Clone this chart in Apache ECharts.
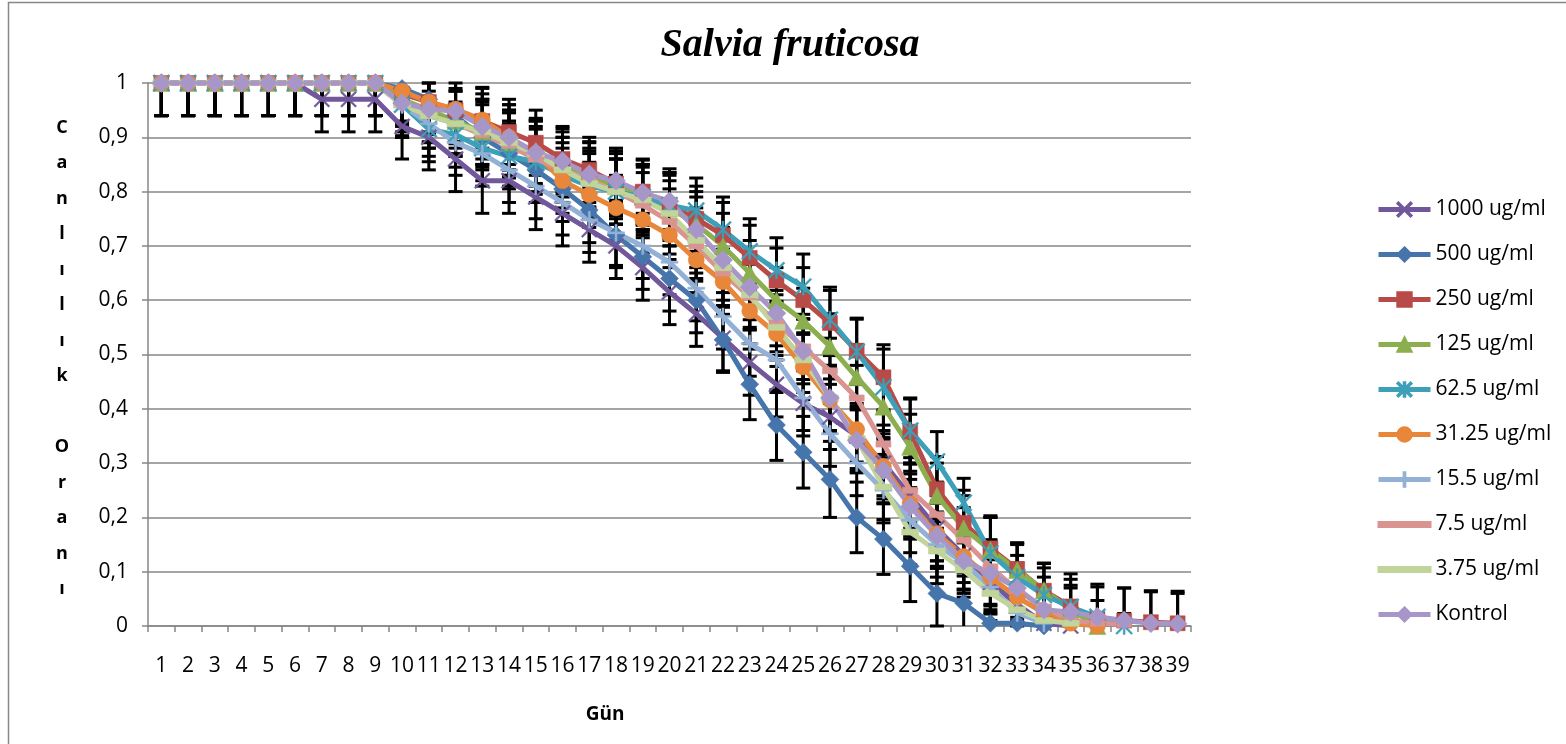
<!DOCTYPE html>
<html>
<head>
<meta charset="utf-8">
<title>Salvia fruticosa</title>
<script src="https://cdn.jsdelivr.net/npm/echarts@6/dist/echarts.min.js"></script>
<style>
  html, body { margin: 0; padding: 0; background: #fff; }
  #chart { width: 1566px; height: 744px; }
</style>
</head>
<body>
<div id="chart"></div>
<script>
// Days on the x axis
const days = ['1','2','3','4','5','6','7','8','9','10','11','12','13','14','15','16','17','18','19','20',
  '21','22','23','24','25','26','27','28','29','30','31','32','33','34','35','36','37','38','39'];

// Survival ratio per concentration (day 1 onwards)
const s1000 = [1,1,1,1,1,1,0.97,0.97,0.97,0.92,0.90,0.86,0.82,0.82,0.79,0.76,0.73,0.70,0.66,0.615,
  0.575,0.53,0.485,0.445,0.41,0.385,0.35,0.30,0.24,0.18,0.13,0.08,0.04,0.005,0];
const s500 = [1,1,1,1,1,1,1,1,1,0.99,0.97,0.94,0.90,0.87,0.84,0.805,0.766,0.72,0.68,0.64,
  0.60,0.527,0.445,0.37,0.32,0.27,0.20,0.16,0.11,0.06,0.042,0.005,0.005,0];
const s250 = [1,1,1,1,1,1,1,1,1,0.98,0.965,0.95,0.93,0.91,0.89,0.86,0.84,0.815,0.80,0.775,
  0.75,0.72,0.678,0.636,0.60,0.558,0.507,0.458,0.358,0.252,0.19,0.143,0.105,0.065,0.036,0.012,0.01,0.007,0.005];
const s125 = [1,1,1,1,1,1,1,1,1,0.97,0.95,0.93,0.91,0.89,0.875,0.85,0.83,0.81,0.79,0.77,
  0.74,0.70,0.65,0.60,0.562,0.515,0.458,0.404,0.33,0.24,0.18,0.14,0.103,0.066,0.03,0];
const s62 = [1,1,1,1,1,1,1,1,1,0.96,0.915,0.905,0.88,0.865,0.855,0.83,0.81,0.80,0.79,0.775,
  0.765,0.73,0.69,0.655,0.625,0.564,0.505,0.44,0.36,0.303,0.227,0.134,0.09,0.057,0.035,0.017,0];
const s31 = [1,1,1,1,1,1,1,1,1,0.985,0.965,0.952,0.932,0.90,0.87,0.82,0.794,0.77,0.748,0.72,
  0.674,0.634,0.58,0.538,0.477,0.416,0.362,0.294,0.225,0.17,0.128,0.09,0.053,0.024,0.005,0];
const s15 = [1,1,1,1,1,1,1,1,1,0.96,0.925,0.89,0.87,0.84,0.81,0.78,0.748,0.724,0.70,0.67,
  0.622,0.57,0.52,0.49,0.42,0.354,0.30,0.25,0.195,0.15,0.116,0.072,0.024,0.005];
const s7 = [1,1,1,1,1,1,1,1,1,0.96,0.94,0.925,0.905,0.885,0.86,0.84,0.82,0.80,0.775,0.745,
  0.70,0.65,0.606,0.558,0.514,0.47,0.42,0.335,0.25,0.205,0.158,0.109,0.066,0.035,0.01,0.005,0.003];
const s3 = [1,1,1,1,1,1,1,1,1,0.96,0.94,0.925,0.91,0.89,0.87,0.84,0.815,0.80,0.785,0.76,
  0.71,0.66,0.61,0.55,0.49,0.42,0.345,0.256,0.173,0.138,0.103,0.06,0.03,0.01,0.005];
const sKontrol = [1,1,1,1,1,1,1,1,1,0.963,0.952,0.948,0.92,0.90,0.872,0.856,0.832,0.82,0.798,0.782,
  0.73,0.674,0.624,0.576,0.506,0.42,0.342,0.287,0.22,0.166,0.12,0.097,0.07,0.03,0.026,0.017,0.01,0.005,0.004];

// Standard deviation per point
const e1000 = [0.06,0.06,0.06,0.06,0.06,0.06,0.06,0.06,0.06,0.06,0.06,0.06,0.06,0.06,0.06,0.06,0.06,0.06,0.06,0.06,
  0.06,0.06,0.06,0.06,0.06,0.06,0.06,0.06,0.06,0.06,0.05,0.05,0.04,0.02,0.01];
const e500 = [0.06,0.06,0.06,0.06,0.06,0.06,0.06,0.06,0.06,0.06,0.06,0.06,0.06,0.06,0.06,0.06,0.06,0.06,0.06,0.06,
  0.06,0.06,0.065,0.065,0.066,0.07,0.065,0.065,0.065,0.06,0.05,0.02,0.02,0.01];
const e250 = [0.06,0.06,0.06,0.06,0.06,0.06,0.06,0.06,0.06,0.06,0.06,0.06,0.06,0.06,0.06,0.06,0.06,0.06,0.06,0.06,
  0.06,0.06,0.06,0.06,0.06,0.06,0.06,0.06,0.06,0.06,0.06,0.06,0.045,0.05,0.06,0.06,0.06,0.056,0.055];
const e125 = [0.06,0.06,0.06,0.06,0.06,0.06,0.06,0.06,0.06,0.06,0.06,0.06,0.06,0.06,0.06,0.06,0.06,0.06,0.06,0.06,
  0.06,0.06,0.06,0.06,0.06,0.06,0.06,0.06,0.06,0.06,0.06,0.06,0.05,0.05,0.04,0.01];
const e62 = [0.06,0.06,0.06,0.06,0.06,0.06,0.06,0.06,0.06,0.06,0.06,0.06,0.06,0.06,0.06,0.06,0.06,0.06,0.06,0.06,
  0.06,0.06,0.06,0.06,0.06,0.06,0.06,0.07,0.06,0.055,0.045,0.066,0.063,0.05,0.04,0.03,0.01];
const e31 = [0.06,0.06,0.06,0.06,0.06,0.06,0.06,0.06,0.06,0.06,0.06,0.06,0.06,0.06,0.06,0.06,0.06,0.06,0.06,0.06,
  0.06,0.06,0.06,0.06,0.06,0.06,0.06,0.06,0.06,0.06,0.06,0.05,0.05,0.04,0.02,0.01];
const e15 = [0.06,0.06,0.06,0.06,0.06,0.06,0.06,0.06,0.06,0.06,0.06,0.06,0.06,0.06,0.06,0.06,0.06,0.06,0.06,0.06,
  0.06,0.06,0.06,0.06,0.06,0.06,0.06,0.06,0.06,0.06,0.05,0.05,0.04,0.02];
const e7 = [0.06,0.06,0.06,0.06,0.06,0.06,0.06,0.06,0.06,0.06,0.06,0.06,0.06,0.06,0.06,0.06,0.06,0.06,0.06,0.06,
  0.06,0.06,0.06,0.06,0.06,0.06,0.06,0.06,0.06,0.06,0.06,0.05,0.05,0.04,0.03,0.02,0.02];
const e3 = [0.06,0.06,0.06,0.06,0.06,0.06,0.06,0.06,0.06,0.06,0.06,0.06,0.06,0.06,0.06,0.06,0.06,0.06,0.06,0.06,
  0.06,0.06,0.06,0.06,0.06,0.06,0.06,0.06,0.06,0.06,0.05,0.05,0.04,0.02,0.01];
const eKontrol = [0.06,0.06,0.06,0.06,0.06,0.06,0.06,0.06,0.06,0.06,0.06,0.06,0.06,0.06,0.06,0.06,0.06,0.06,0.06,0.06,
  0.06,0.06,0.06,0.06,0.06,0.06,0.06,0.06,0.06,0.06,0.06,0.06,0.06,0.06,0.06,0.06,0.06,0.06,0.06];

// Y tick labels
const yTicks = [0, 0.1, 0.2, 0.3, 0.4, 0.5, 0.6, 0.7, 0.8, 0.9, 1];

// Marker shapes
const X_PATH = 'path://M0,0.8L0.8,0L5,4.2L9.2,0L10,0.8L5.8,5L10,9.2L9.2,10L5,5.8L0.8,10L0,9.2L4.2,5Z';
const STAR_PATH = 'path://M0,0.8L0.8,0L5,4.2L9.2,0L10,0.8L5.8,5L10,9.2L9.2,10L5,5.8L0.8,10L0,9.2L4.2,5ZM4.45,0H5.55V10H4.45Z';
const PLUS_PATH = 'path://M4.4,0H5.6V4.4H10V5.6H5.6V10H4.4V5.6H0V4.4H4.4Z';
const LINE_ICON = 'path://M0,0M52,18M0,6.5H52V11.5H0Z';

const groups = [
  { name: '1000 ug/ml', values: s1000, err: e1000, color: '#71589A', symbol: X_PATH, size: 16 },
  { name: '500 ug/ml', values: s500, err: e500, color: '#4675AC', symbol: 'diamond', size: 18 },
  { name: '250 ug/ml', values: s250, err: e250, color: '#B84A47', symbol: 'rect', size: 15 },
  { name: '125 ug/ml', values: s125, err: e125, color: '#8BAF4F', symbol: 'triangle', size: 17 },
  { name: '62.5 ug/ml', values: s62, err: e62, color: '#3D9FB8', symbol: STAR_PATH, size: 17 },
  { name: '31.25 ug/ml', values: s31, err: e31, color: '#E8863A', symbol: 'circle', size: 16 },
  { name: '15.5 ug/ml', values: s15, err: e15, color: '#93B0D6', symbol: PLUS_PATH, size: 17 },
  { name: '7.5 ug/ml', values: s7, err: e7, color: '#D99492', symbol: 'rect', size: [15, 6], plainIcon: true },
  { name: '3.75 ug/ml', values: s3, err: e3, color: '#C1D59A', symbol: 'rect', size: [17, 6], plainIcon: true },
  { name: 'Kontrol', values: sKontrol, err: eKontrol, color: '#A797C8', symbol: 'diamond', size: 19 }
];

// Vertical error bar with caps, clipped to the 0..1 range of the value axis
function renderErrorBar(params, api) {
  const idx = api.value(0);
  const v = api.value(1);
  const e = api.value(2);
  const hi = Math.min(1, v + e);
  const lo = Math.max(0, v - e);
  const top = api.coord([idx, hi]);
  const bot = api.coord([idx, lo]);
  const cap = 7;
  const style = { stroke: '#000', lineWidth: 3 };
  const children = [
    { type: 'line', shape: { x1: top[0], y1: top[1], x2: bot[0], y2: bot[1] }, style: style }
  ];
  if (v + e <= 1) {
    children.push({ type: 'line', shape: { x1: top[0] - cap, y1: top[1], x2: top[0] + cap, y2: top[1] }, style: style });
  }
  if (v - e >= 0) {
    children.push({ type: 'line', shape: { x1: bot[0] - cap, y1: bot[1], x2: bot[0] + cap, y2: bot[1] }, style: style });
  }
  return { type: 'group', children: children };
}

const series = [];
groups.forEach(function (g) {
  series.push({
    name: g.name,
    type: 'line',
    data: g.values,
    symbol: g.symbol,
    symbolSize: g.size,
    showAllSymbol: true,
    lineStyle: { color: g.color, width: 5 },
    itemStyle: { color: g.color, borderColor: g.color, borderWidth: 0.5 },
    emphasis: { disabled: true },
    animation: false
  });
  series.push({
    name: g.name,
    type: 'custom',
    renderItem: renderErrorBar,
    data: g.values.map(function (v, i) { return [i, v, g.err[i]]; }),
    encode: { x: 0, y: 1 },
    silent: true,
    animation: false
  });
});

const legendData = groups.map(function (g) {
  return g.plainIcon ? { name: g.name, icon: LINE_ICON } : { name: g.name };
});

const axisFont = '"Open Sans", "Liberation Sans", sans-serif';
const yLetters = ['C','a','n','l','ı','l','ı','k','','O','r','a','n','ı'];

const chart = echarts.init(document.getElementById('chart'), null, { renderer: 'canvas' });
chart.setOption({
  backgroundColor: '#ffffff',
  animation: false,
  grid: { left: 148, right: 375, top: 83, bottom: 118, containLabel: false },
  legend: {
    orient: 'vertical',
    left: 1371,
    top: 194,
    itemWidth: 52,
    itemHeight: 18,
    itemGap: 24,
    data: legendData,
    selectedMode: false,
    lineStyle: { width: 5 },
    textStyle: { fontFamily: axisFont, fontSize: 21, color: '#000', lineHeight: 21 }
  },
  xAxis: {
    type: 'category',
    data: days,
    boundaryGap: true,
    axisLine: { lineStyle: { color: '#878787', width: 1.5 } },
    axisTick: { show: true, alignWithLabel: false, length: 6, lineStyle: { color: '#878787', width: 1.5 } },
    axisLabel: { interval: 0, margin: 30, color: '#000', fontFamily: axisFont, fontSize: 21 },
    splitLine: { show: false }
  },
  yAxis: {
    type: 'value',
    min: yTicks[0],
    max: yTicks[yTicks.length - 1],
    interval: 0.1,
    axisLine: { show: true, lineStyle: { color: '#878787', width: 1.5 } },
    axisTick: { show: true, length: 6, lineStyle: { color: '#878787', width: 1.5 } },
    axisLabel: {
      margin: 20,
      color: '#000',
      fontFamily: axisFont,
      fontSize: 21,
      formatter: function (v) {
        const r = Math.round(v * 10) / 10;
        return String(r).replace('.', ',');
      }
    },
    splitLine: { show: true, lineStyle: { color: '#878787', width: 1.5 } }
  },
  graphic: [
    { type: 'polyline', shape: { points: [[8.5, 760], [8.5, 2.5], [1600, 2.5]] }, style: { stroke: '#878787', lineWidth: 1.5, fill: null }, silent: true },
    {
      type: 'text', x: 790, y: 46, silent: true,
      style: {
        text: 'Salvia fruticosa', textAlign: 'center', textVerticalAlign: 'middle',
        font: 'italic bold 40px "Liberation Serif", "DejaVu Serif", serif', fill: '#000'
      }
    },
    {
      type: 'text', x: 62, y: 110, silent: true,
      style: {
        text: yLetters.join('\n'), textAlign: 'center', textVerticalAlign: 'top',
        font: 'bold 18px "Open Sans", sans-serif', lineHeight: 35.5, fill: '#000'
      }
    },
    {
      type: 'text', x: 605, y: 715, silent: true,
      style: {
        text: 'Gün', textAlign: 'center', textVerticalAlign: 'middle',
        font: 'bold 19px "Open Sans", sans-serif', fill: '#000'
      }
    }
  ],
  series: series
});
</script>
</body>
</html>
